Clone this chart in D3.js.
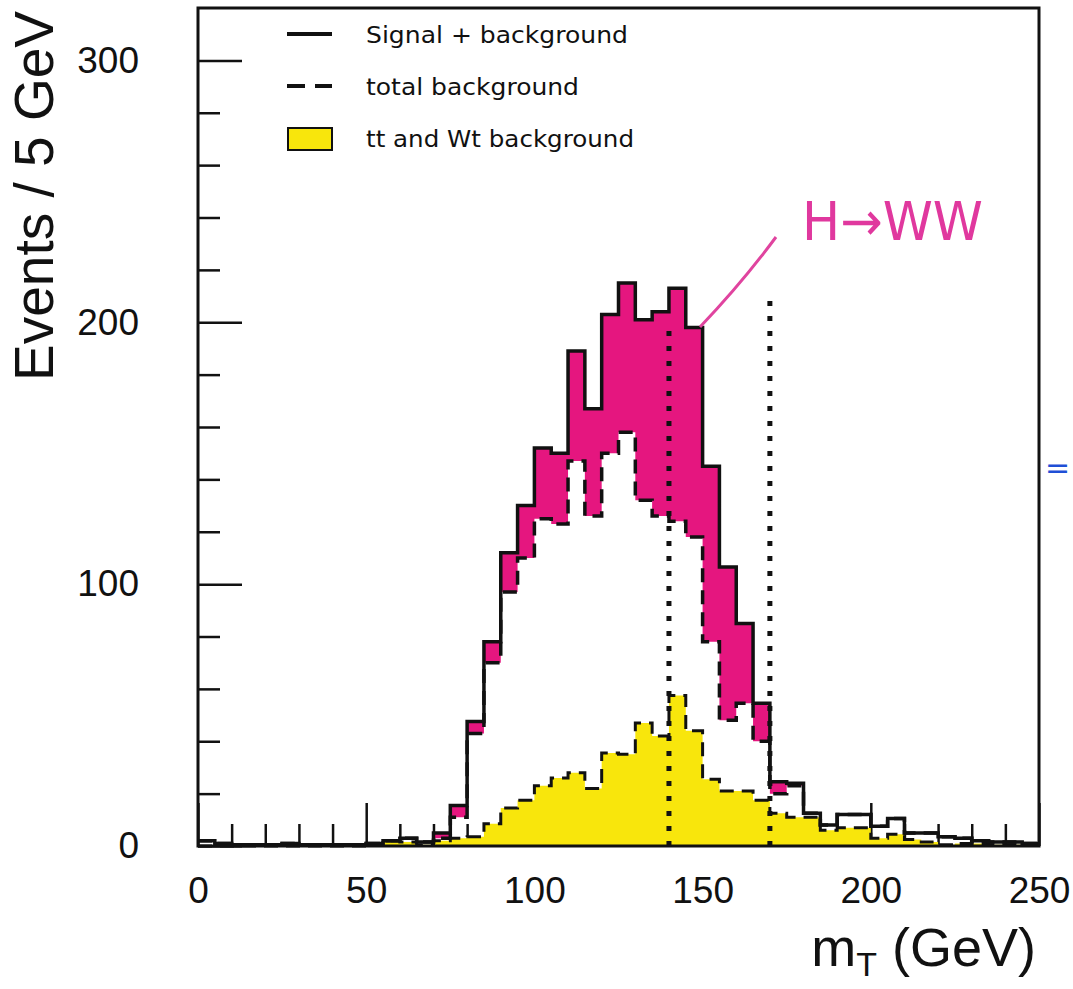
<!DOCTYPE html>
<meta charset="utf-8">
<style>
body { margin: 0; background: #fff; }
svg { display: block; }
.tick text { font-family: 'Liberation Sans', Arial, sans-serif; font-size: 37px; fill: #111; }
.tick line { stroke: #111; stroke-width: 2.5px; }
.legend text { font-family: 'DejaVu Sans', sans-serif; font-size: 23px; fill: #111; }
</style>
<svg width="1073" height="989"></svg>
<script src="https://d3js.org/d3.v7.min.js"></script>
<script>
// bins of 5 GeV from 0 to 250
var binLow = d3.range(0, 250, 5);

// signal + background (solid)
var sigBkg = [
  2, 1, 0.5, 0.5, 0.5, 1, 0.5, 0.5, 0.5, 0.5,
  1, 2, 3, 1.5, 5, 15.5, 47.5, 78, 112, 130,
  152, 150, 189, 167, 203, 215, 201, 204, 213, 198,
  145, 106.5, 85, 54.5, 24.5, 24, 12.5, 8, 12, 12,
  7.5, 10.5, 5, 5, 3.5, 3, 2, 1.5, 1.5, 1
];
// total background (dashed)
var totBkg = [
  2, 1, 0.5, 0.5, 0.5, 1, 0.5, 0.5, 0.5, 0.5,
  1, 2, 3, 1.5, 3, 11, 43, 70, 97, 110,
  125, 123, 147, 126, 150, 158, 132, 126, 124, 118,
  78, 48, 54.5, 40, 20, 23, 12.5, 8, 12, 12,
  7.5, 10.5, 5, 5, 3.5, 3, 2, 1.5, 1.5, 1
];
// tt and Wt background (yellow)
var ttWt = [
  0, 0, 0, 0, 0, 0, 0, 0, 0, 0,
  1, 2, 1.5, 0.5, 2, 3, 3.5, 8.5, 14.5, 17.5,
  23, 26, 28, 22, 35.5, 35, 47, 42, 57.5, 44,
  25.5, 21, 21, 17.5, 12.5, 11, 11, 6, 7, 7,
  3, 4.5, 2.5, 1.5, 0.5, 1, 1, 0.5, 0.5, 0.5
];

var xMajor = [0, 50, 100, 150, 200, 250];
var yMajor = [0, 100, 200, 300];
var cutLines = [{x: 140, top: 200}, {x: 170, top: 210}];

var legendItems = [
  {label: "Signal + background", kind: "solid", len: 262},
  {label: "total background", kind: "dash", len: 213},
  {label: "tt and Wt background", kind: "box", len: 268}
];

var svg = d3.select("svg");
var pLeft = 198, pRight = 1039, pTop = 8, pBottom = 846;

var x = d3.scaleLinear().domain([0, 250]).range([pLeft, pRight]);
var y = d3.scaleLinear().domain([0, 320]).range([pBottom, pTop]);

// axes first, ticks pointing inside (histograms drawn over them)
var yAxisMajor = d3.axisLeft(y).tickValues(yMajor).tickSize(-44).tickPadding(59);
var yAxisMinor = d3.axisLeft(y)
  .tickValues(d3.range(20, 320, 20).filter(function(v) { return v % 100 != 0; }))
  .tickSize(-22).tickFormat("");
var xAxisMajor = d3.axisBottom(x).tickValues(xMajor).tickSize(-43).tickPadding(31);
var xAxisMinor = d3.axisBottom(x)
  .tickValues(d3.range(10, 250, 10).filter(function(v) { return v % 50 != 0; }))
  .tickSize(-22).tickFormat("");

svg.append("g").attr("transform", "translate(" + pLeft + ",0)").call(yAxisMajor);
svg.append("g").attr("transform", "translate(" + pLeft + ",0)").call(yAxisMinor);
svg.append("g").attr("transform", "translate(0," + pBottom + ")").call(xAxisMajor);
svg.append("g").attr("transform", "translate(0," + pBottom + ")").call(xAxisMinor);
svg.selectAll(".domain").remove();

function steps(vals) {
  var pts = vals.map(function(v, i) { return [binLow[i], v]; });
  pts.push([250, vals[vals.length - 1]]);
  return pts;
}

var line = d3.line()
  .curve(d3.curveStepAfter)
  .x(function(d) { return x(d[0]); })
  .y(function(d) { return y(d[1]); });

// yellow tt+Wt area
var yellowArea = d3.area()
  .curve(d3.curveStepAfter)
  .x(function(d) { return x(d[0]); })
  .y0(y(0))
  .y1(function(d) { return y(d[1]); });

svg.append("path")
  .attr("d", yellowArea(steps(ttWt)))
  .attr("fill", "#f8e60c");

svg.append("path")
  .attr("d", line(steps(ttWt)))
  .attr("fill", "none")
  .attr("stroke", "#111")
  .attr("stroke-width", 3)
  .attr("stroke-dasharray", "14,8");

// magenta signal band between total bkg and s+b
var bkgSteps = steps(totBkg);
var sigPts = steps(sigBkg).map(function(d, i) { return [d[0], d[1], bkgSteps[i][1]]; });
var sigArea = d3.area()
  .curve(d3.curveStepAfter)
  .x(function(d) { return x(d[0]); })
  .y0(function(d) { return y(d[2]); })
  .y1(function(d) { return y(d[1]); });

svg.append("path")
  .attr("d", sigArea(sigPts))
  .attr("fill", "#e5167f");

// total background dashed
svg.append("path")
  .attr("d", line(bkgSteps))
  .attr("fill", "none")
  .attr("stroke", "#111")
  .attr("stroke-width", 3.5)
  .attr("stroke-dasharray", "14,8");

// signal + background solid
svg.append("path")
  .attr("d", line(steps(sigBkg)))
  .attr("fill", "none")
  .attr("stroke", "#111")
  .attr("stroke-width", 3.5);

// dotted cut lines
svg.selectAll(".cut")
  .data(cutLines)
  .enter().append("line")
  .attr("class", "cut")
  .attr("x1", function(d) { return x(d.x); })
  .attr("x2", function(d) { return x(d.x); })
  .attr("y1", y(0))
  .attr("y2", function(d) { return y(d.top); })
  .attr("stroke", "#111")
  .attr("stroke-width", 5)
  .attr("stroke-dasharray", "5,10");

// frame
svg.append("rect")
  .attr("x", pLeft).attr("y", pTop)
  .attr("width", pRight - pLeft).attr("height", pBottom - pTop)
  .attr("fill", "none")
  .attr("stroke", "#111")
  .attr("stroke-width", 3);

// axis titles
svg.append("text")
  .attr("transform", "translate(53,196) rotate(-90)")
  .attr("text-anchor", "middle")
  .style("font-family", "'Liberation Sans', Arial, sans-serif")
  .style("font-size", "55px")
  .attr("fill", "#111")
  .text("Events / 5 GeV");

var xt = svg.append("text")
  .attr("x", 1036).attr("y", 966)
  .attr("text-anchor", "end")
  .style("font-family", "'Liberation Sans', Arial, sans-serif")
  .style("font-size", "54px")
  .attr("fill", "#111");
xt.append("tspan").text("m");
xt.append("tspan").attr("dy", 10).style("font-size", "34px").text("T");
xt.append("tspan").attr("dy", -10).text(" (GeV)");

// legend
var lg = svg.append("g").attr("class", "legend");
legendItems.forEach(function(d, i) {
  var cy = 34 + i * 52;
  if (d.kind == "solid") {
    lg.append("line").attr("x1", 287).attr("x2", 332).attr("y1", cy).attr("y2", cy)
      .attr("stroke", "#111").attr("stroke-width", 4);
  } else if (d.kind == "dash") {
    lg.append("line").attr("x1", 287).attr("x2", 332).attr("y1", cy).attr("y2", cy)
      .attr("stroke", "#111").attr("stroke-width", 4).attr("stroke-dasharray", "18,10");
  } else {
    lg.append("rect").attr("x", 288).attr("y", cy - 10).attr("width", 44).attr("height", 22)
      .attr("fill", "#f8e60c").attr("stroke", "#111").attr("stroke-width", 2);
  }
  lg.append("text")
    .attr("x", 366).attr("y", cy + 9)
    .attr("textLength", d.len)
    .attr("lengthAdjust", "spacingAndGlyphs")
    .text(d.label);
});

// hand-written annotation
svg.append("path")
  .attr("d", "M700,327 Q742,283 776,237")
  .attr("fill", "none")
  .attr("stroke", "#e0449f")
  .attr("stroke-width", 3);

svg.append("text")
  .attr("x", 802).attr("y", 240)
  .attr("textLength", 181)
  .attr("lengthAdjust", "spacingAndGlyphs")
  .style("font-family", "'DejaVu Sans', sans-serif")
  .style("font-size", "54px")
  .attr("fill", "#e0389e")
  .text("H→WW");

svg.append("text")
  .attr("x", 1045).attr("y", 478)
  .style("font-family", "'DejaVu Sans', sans-serif")
  .style("font-size", "30px")
  .attr("fill", "#1f4fd6")
  .text("=");
</script>
